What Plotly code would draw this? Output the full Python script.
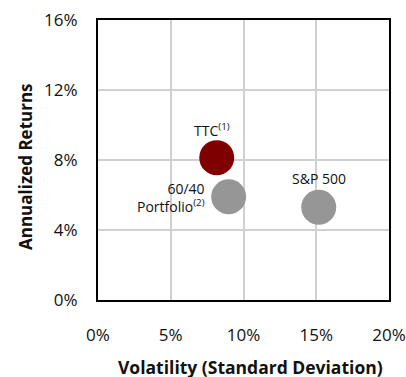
import plotly.graph_objects as go

names = ["TTC", "60/40 Portfolio", "S&P 500"]
labels = ["TTC<sup>(1)</sup>", "60/40<br>Portfolio<sup>(2)</sup>", "S&P 500"]
volatility = [0.0816, 0.0898, 0.1517]
returns = [0.0813, 0.059, 0.053]
colors = ["#7f0000", "#969696", "#969696"]
x_title = "Volatility (Standard Deviation)"
y_title = "Annualized Returns"

FONT = "Open Sans"
TXT = "#111111"

fig = go.Figure()
fig.add_trace(go.Scatter(
    x=volatility, y=returns, mode="markers",
    marker=dict(size=35, color=colors, line=dict(width=0), opacity=1),
    text=names, hoverinfo="text", showlegend=False,
))

label_pos = [
    dict(xanchor="center", yanchor="middle", xshift=-5, yshift=28, align="center"),
    dict(xanchor="right", yanchor="middle", xshift=-22, yshift=-1, align="right"),
    dict(xanchor="center", yanchor="middle", xshift=0, yshift=29, align="center"),
]
for xv, yv, t, p in zip(volatility, returns, labels, label_pos):
    fig.add_annotation(x=xv, y=yv, xref="x", yref="y", text=t, showarrow=False,
                       font=dict(family=FONT, size=14, color=TXT), **p)

# axis titles
fig.add_annotation(x=0.525, y=0, xref="paper", yref="paper", yshift=-67,
                   text="<b>" + x_title + "</b>", showarrow=False,
                   xanchor="center", yanchor="middle",
                   font=dict(family=FONT, size=17.5, color=TXT))
fig.add_annotation(x=0, y=0.475, xref="paper", yref="paper", xshift=-73,
                   text="<b>" + y_title + "</b>", showarrow=False, textangle=-90,
                   xanchor="center", yanchor="middle",
                   font=dict(family=FONT, size=17, color=TXT))

fig.update_layout(
    width=406, height=377,
    margin=dict(l=98, r=17, t=20, b=77, autoexpand=False),
    paper_bgcolor="white", plot_bgcolor="white",
    font=dict(family=FONT, color=TXT),
)
fig.update_xaxes(
    range=[0, 0.2], dtick=0.05, tick0=0, tickformat=".0%",
    showgrid=True, gridcolor="#d0d0d0", gridwidth=1.5,
    showline=True, linecolor="black", linewidth=2, mirror=True,
    zeroline=False, ticks="", ticklabelstandoff=19, automargin=False,
    tickfont=dict(family=FONT, size=17, color=TXT),
)
fig.update_yaxes(
    range=[0, 0.16], dtick=0.04, tick0=0, tickformat=".0%",
    showgrid=True, gridcolor="#d0d0d0", gridwidth=1.5,
    showline=True, linecolor="black", linewidth=2, mirror=True,
    zeroline=False, ticks="", ticklabelstandoff=15, automargin=False,
    tickfont=dict(family=FONT, size=17, color=TXT),
)

fig.write_html("out.html", config={"displayModeBar": False},
               post_script="document.body.style.margin='0';document.body.style.overflow='hidden';")
